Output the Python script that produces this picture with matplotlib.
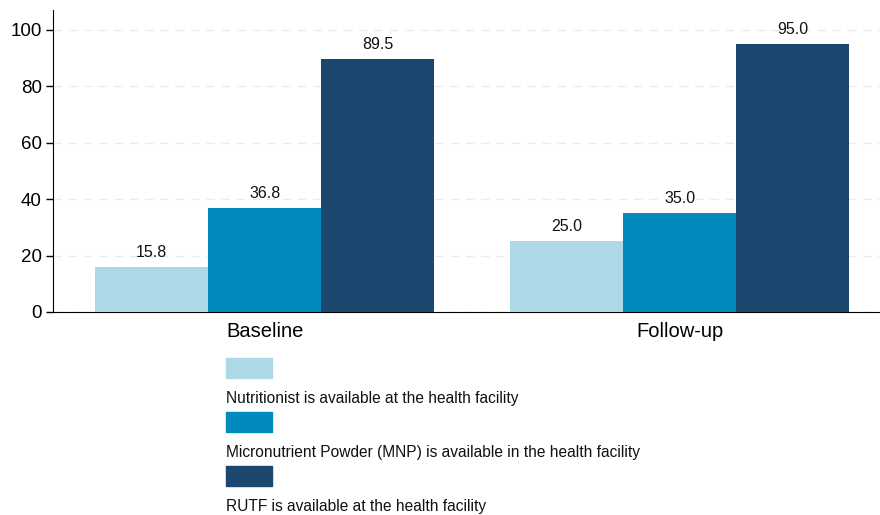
import matplotlib
matplotlib.use("Agg")
import matplotlib.pyplot as plt
from matplotlib.patches import Rectangle
import numpy as np

plt.rcParams['font.family'] = ['Liberation Sans', 'DejaVu Sans']

groups = ["Baseline", "Follow-up"]
series = [
    "Nutritionist is available at the health facility",
    "Micronutrient Powder (MNP) is available in the health facility",
    "RUTF is available at the health facility",
]
values = [
    [15.8, 25.0],
    [36.8, 35.0],
    [89.5, 95.0],
]
colors = ["#ADD8E6", "#008BBC", "#1B466E"]
yticks = [0, 20, 40, 60, 80, 100]

fig = plt.figure(figsize=(8.8, 5.15), dpi=100)
ax = fig.add_axes([0.0602, 0.3942, 0.9398, 0.5864])

x = np.arange(len(groups))
w = 0.272
for i, (vals, c) in enumerate(zip(values, colors)):
    pos = x + (i - 1) * w
    bars = ax.bar(pos, vals, width=w, color=c, zorder=3)
    for b, v in zip(bars, vals):
        ax.annotate(f"{v:.1f}", (b.get_x() + b.get_width() / 2, v),
                    xytext=(0, 5), textcoords="offset points",
                    ha="center", va="bottom", fontsize=11.5, color="#111111")

ax.set_xlim(-0.51, 1.483)
ax.set_ylim(0, 107)
ax.set_yticks(yticks)
ax.set_xticks(x)
ax.set_xticklabels(groups, fontsize=14.5)
ax.tick_params(axis="x", length=0, pad=7)
ax.tick_params(axis="y", labelsize=13.5, length=5, width=1, pad=3)
for s in ["top", "right"]:
    ax.spines[s].set_visible(False)
ax.yaxis.grid(True, color="#EBEBEB", linestyle=(0, (6, 5)), linewidth=1, zorder=0)
ax.set_axisbelow(True)

# legend: swatch with its label underneath
for i, (lab, c) in enumerate(zip(series, colors)):
    top = 358 + i * 54
    fig.add_artist(Rectangle((226 / 880, 1 - (top + 20) / 515), 46 / 880, 20 / 515,
                             transform=fig.transFigure, color=c))
    fig.text(226 / 880, 1 - (top + 40) / 515, lab, fontsize=11.2,
             ha="left", va="center", color="#111111")

fig.savefig("out.png", dpi=100)
